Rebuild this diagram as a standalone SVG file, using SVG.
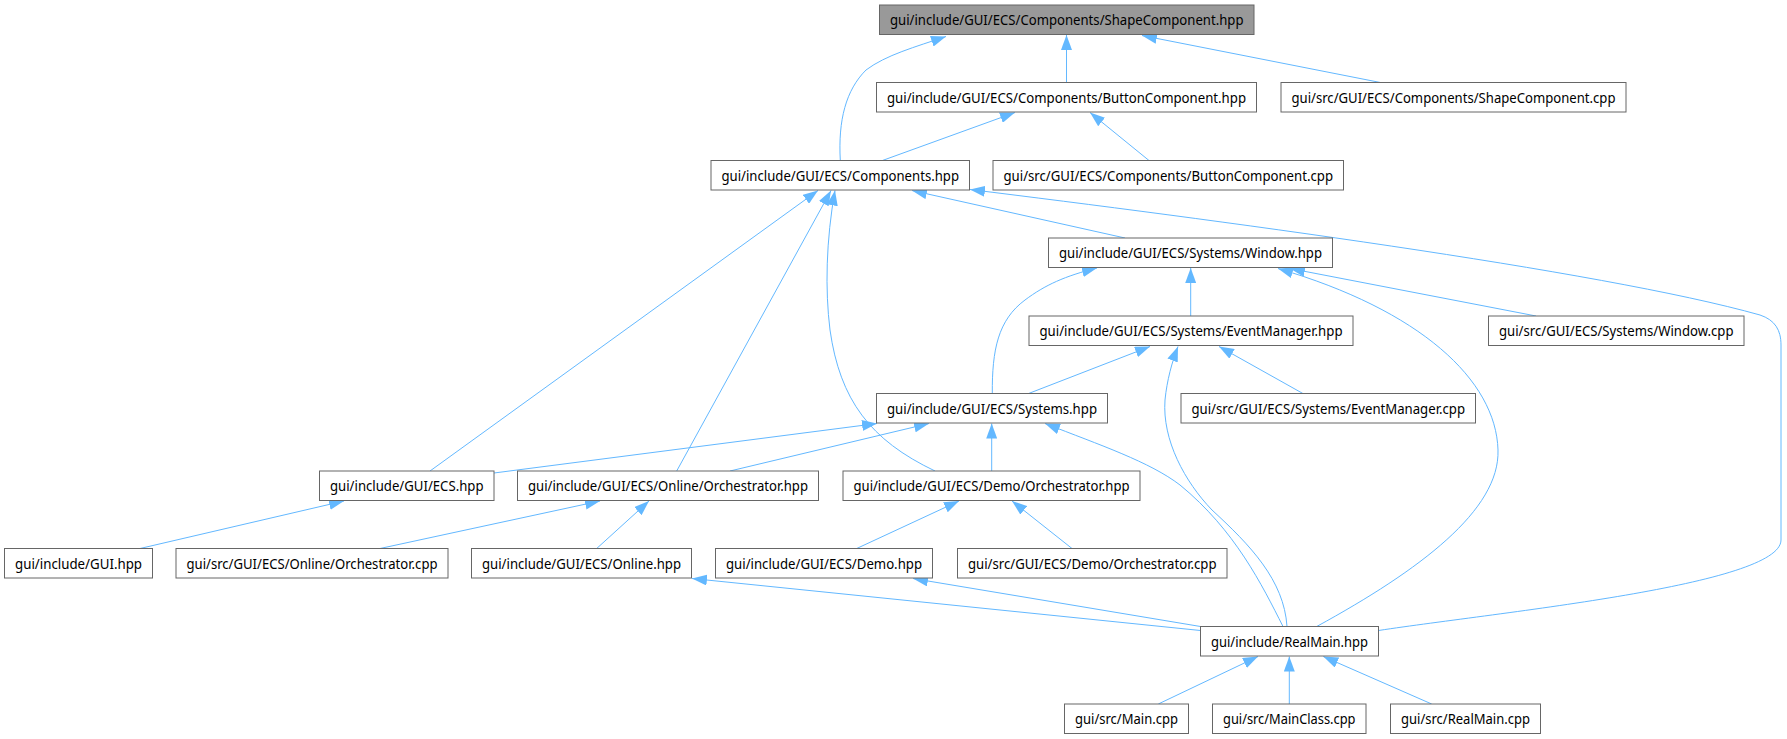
<svg xmlns="http://www.w3.org/2000/svg" width="1787" height="739" viewBox="0 0 1787 739">
<style>
.node rect{fill:#ffffff;stroke:#666666;stroke-width:1}
.node.hl rect{fill:#999999}
.node text{font-family:"Noto Sans","Open Sans","Liberation Sans",sans-serif;font-size:14px;text-anchor:middle;fill:#000000}
.edge path{fill:none;stroke:#63b8ff;stroke-width:1;marker-end:url(#arr)}
</style>
<defs>
<marker id="arr" markerUnits="userSpaceOnUse" viewBox="0 0 15 11" markerWidth="15" markerHeight="11" refX="15" refY="5.5" orient="auto">
<path d="M0,0 L15,5.5 L0,11 z" fill="#63b8ff"/>
</marker>
</defs>
<rect width="1787" height="739" fill="#ffffff"/>
<g id="edges" class="edge">
<path d="M840.3,160.5 C838,120 846,90 866,70 C886,55 915,47 946,36.5"/>
<path d="M1066.5,82.5 L1066.5,35"/>
<path d="M1380.4,82.5 L1142,35.5"/>
<path d="M882.4,160.5 L1015,112.5"/>
<path d="M1149,160.5 L1090,112.5"/>
<path d="M1125,238 L912,190.5"/>
<path d="M1378.5,630.5 C1500,612 1781,585 1781,540 L1781,345 C1781,330 1775,320 1760,315 C1600,270 1200,218 970,189.5"/>
<path d="M430,471 L818,190.5"/>
<path d="M676.7,471 L831,190.5"/>
<path d="M935,471 C870,440 840,400 830,330 C825,290 826,240 835,190.5"/>
<path d="M992.3,393.5 C992,350 998,320 1025,300 C1045,285 1065,276 1097,268"/>
<path d="M1190.7,316 L1190.7,268"/>
<path d="M1536,316 L1290,268.5"/>
<path d="M1316.7,626.5 C1420,570 1500,510 1498,450 C1496,380 1420,310 1278,268.5"/>
<path d="M1028.6,393.5 L1150,346.5"/>
<path d="M1287,626.5 C1284,580 1250,545 1212,510 C1185,482 1162,440 1165,400 C1167,380 1172,362 1178,346.5"/>
<path d="M1302.9,393.5 L1219,346.5"/>
<path d="M494,473 L877,423.5"/>
<path d="M730,471 L929,423.5"/>
<path d="M991.7,471 L991.7,423.5"/>
<path d="M1283,626.5 C1262,585 1235,530 1180,485 C1150,462 1100,445 1045,423.5"/>
<path d="M140,548.5 L344,501"/>
<path d="M380,548.5 L600,501"/>
<path d="M596.7,548.5 L649,501"/>
<path d="M856.7,548.5 L959,501"/>
<path d="M1072,548.5 L1012,501"/>
<path d="M1200.5,630.5 L692,578.5"/>
<path d="M1200.5,626.5 L913,578.5"/>
<path d="M1158.3,704 L1258,656.5"/>
<path d="M1289.3,704 L1289.3,656.5"/>
<path d="M1431.7,704 L1323.3,656.5"/>
</g>
<g id="n1" class="node hl"><rect x="879.5" y="5" width="374.5" height="29.5"/><text x="1066.75" y="25" textLength="353.5" lengthAdjust="spacingAndGlyphs">gui/include/GUI/ECS/Components/ShapeComponent.hpp</text></g>
<g id="n2" class="node"><rect x="876.5" y="82.5" width="380" height="29.5"/><text x="1066.5" y="102.5" textLength="359" lengthAdjust="spacingAndGlyphs">gui/include/GUI/ECS/Components/ButtonComponent.hpp</text></g>
<g id="n3" class="node"><rect x="1281" y="82.5" width="345" height="29.5"/><text x="1453.5" y="102.5" textLength="324" lengthAdjust="spacingAndGlyphs">gui/src/GUI/ECS/Components/ShapeComponent.cpp</text></g>
<g id="n4" class="node"><rect x="711" y="160.5" width="258.5" height="29.5"/><text x="840.25" y="180.5" textLength="237.5" lengthAdjust="spacingAndGlyphs">gui/include/GUI/ECS/Components.hpp</text></g>
<g id="n5" class="node"><rect x="993" y="160.5" width="350.5" height="29.5"/><text x="1168.25" y="180.5" textLength="329.5" lengthAdjust="spacingAndGlyphs">gui/src/GUI/ECS/Components/ButtonComponent.cpp</text></g>
<g id="n6" class="node"><rect x="1048.5" y="238" width="284" height="29.5"/><text x="1190.5" y="258" textLength="263" lengthAdjust="spacingAndGlyphs">gui/include/GUI/ECS/Systems/Window.hpp</text></g>
<g id="n7" class="node"><rect x="1029" y="316" width="324" height="29.5"/><text x="1191" y="336" textLength="303" lengthAdjust="spacingAndGlyphs">gui/include/GUI/ECS/Systems/EventManager.hpp</text></g>
<g id="n8" class="node"><rect x="1488.5" y="316" width="255.5" height="29.5"/><text x="1616.25" y="336" textLength="234.5" lengthAdjust="spacingAndGlyphs">gui/src/GUI/ECS/Systems/Window.cpp</text></g>
<g id="n9" class="node"><rect x="876.5" y="393.5" width="231" height="29.5"/><text x="992" y="413.5" textLength="210" lengthAdjust="spacingAndGlyphs">gui/include/GUI/ECS/Systems.hpp</text></g>
<g id="n10" class="node"><rect x="1181" y="393.5" width="294.5" height="29.5"/><text x="1328.25" y="413.5" textLength="273.5" lengthAdjust="spacingAndGlyphs">gui/src/GUI/ECS/Systems/EventManager.cpp</text></g>
<g id="n11" class="node"><rect x="319.5" y="471" width="174.5" height="29.5"/><text x="406.75" y="491" textLength="153.5" lengthAdjust="spacingAndGlyphs">gui/include/GUI/ECS.hpp</text></g>
<g id="n12" class="node"><rect x="517.5" y="471" width="301" height="29.5"/><text x="668" y="491" textLength="280" lengthAdjust="spacingAndGlyphs">gui/include/GUI/ECS/Online/Orchestrator.hpp</text></g>
<g id="n13" class="node"><rect x="843" y="471" width="297" height="29.5"/><text x="991.5" y="491" textLength="276" lengthAdjust="spacingAndGlyphs">gui/include/GUI/ECS/Demo/Orchestrator.hpp</text></g>
<g id="n14" class="node"><rect x="4.5" y="548.5" width="148" height="29.5"/><text x="78.5" y="568.5" textLength="127" lengthAdjust="spacingAndGlyphs">gui/include/GUI.hpp</text></g>
<g id="n15" class="node"><rect x="176" y="548.5" width="272" height="29.5"/><text x="312" y="568.5" textLength="251" lengthAdjust="spacingAndGlyphs">gui/src/GUI/ECS/Online/Orchestrator.cpp</text></g>
<g id="n16" class="node"><rect x="471.5" y="548.5" width="220" height="29.5"/><text x="581.5" y="568.5" textLength="199" lengthAdjust="spacingAndGlyphs">gui/include/GUI/ECS/Online.hpp</text></g>
<g id="n17" class="node"><rect x="715.5" y="548.5" width="217" height="29.5"/><text x="824" y="568.5" textLength="196" lengthAdjust="spacingAndGlyphs">gui/include/GUI/ECS/Demo.hpp</text></g>
<g id="n18" class="node"><rect x="957.5" y="548.5" width="269.5" height="29.5"/><text x="1092.25" y="568.5" textLength="248.5" lengthAdjust="spacingAndGlyphs">gui/src/GUI/ECS/Demo/Orchestrator.cpp</text></g>
<g id="n19" class="node"><rect x="1200.5" y="626.5" width="178" height="29.5"/><text x="1289.5" y="646.5" textLength="157" lengthAdjust="spacingAndGlyphs">gui/include/RealMain.hpp</text></g>
<g id="n20" class="node"><rect x="1064.5" y="704" width="124" height="29.5"/><text x="1126.5" y="724" textLength="103" lengthAdjust="spacingAndGlyphs">gui/src/Main.cpp</text></g>
<g id="n21" class="node"><rect x="1212.5" y="704" width="153.5" height="29.5"/><text x="1289.25" y="724" textLength="132.5" lengthAdjust="spacingAndGlyphs">gui/src/MainClass.cpp</text></g>
<g id="n22" class="node"><rect x="1390.5" y="704" width="150" height="29.5"/><text x="1465.5" y="724" textLength="129" lengthAdjust="spacingAndGlyphs">gui/src/RealMain.cpp</text></g>
</svg>
